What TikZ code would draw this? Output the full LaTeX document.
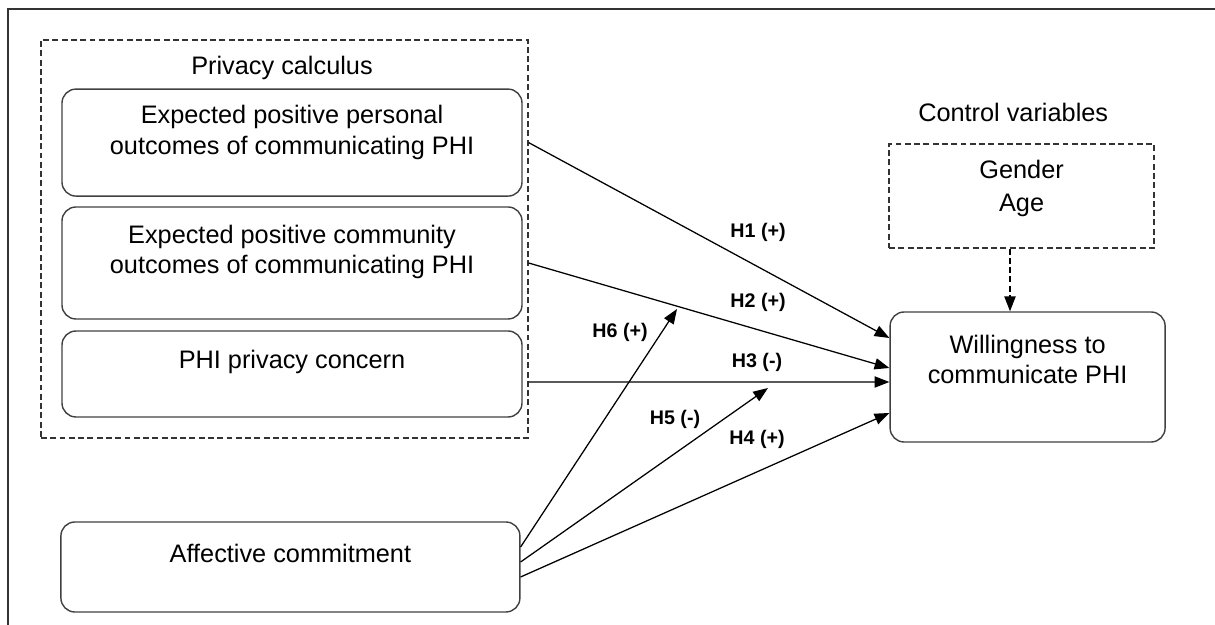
\documentclass[tikz,border=0pt]{standalone}
\usepackage{fontspec}
\setmainfont{Liberation Sans}
\usetikzlibrary{arrows.meta,positioning,calc}

\begin{document}
\begin{tikzpicture}[font=\fontsize{18}{21.5}\selectfont,
  box/.style={draw=black!75,line width=1pt,rounded corners=0.35cm},
  grpbox/.style={draw=black!80,line width=0.9pt,dash pattern=on 4.2pt off 2.4pt},
  txt/.style={align=center,inner sep=0pt},
  link/.style={line width=0.9pt,-{Triangle[length=0.37cm,width=0.28cm]}},
  hyp/.style={font=\fontsize{14}{16}\selectfont\bfseries,inner sep=0pt}]
  \useasboundingbox (0,0) rectangle (30.375,15.625);
  \draw[line width=1.3pt,black!80] (0.19,0) -- (0.19,15.39) -- (30.375,15.39);

  % privacy calculus group
  \node[grpbox,minimum width=12.175cm,minimum height=9.95cm] (grp) at (7.1125,9.65) {};
  \node[txt] (grptitle) at (7.05,13.925) {Privacy calculus};
  \node[box,minimum width=11.5cm,minimum height=2.675cm] (pers) at (7.3,12.06) {};
  \node[txt] (perstxt) at ([yshift=-1.1cm]pers.north) {Expected positive personal\\outcomes of communicating PHI};
  \node[box,minimum width=11.5cm,minimum height=2.8cm] (comm) at (7.3,9.05) {};
  \node[txt] (commtxt) at ([yshift=-1.14cm]comm.north) {Expected positive community\\outcomes of communicating PHI};
  \node[box,minimum width=11.5cm,minimum height=2.15cm] (conc) at (7.3,6.275) {};
  \node[txt] (conctxt) at ([yshift=-0.8cm]conc.north) {PHI privacy concern};

  \node[box,minimum width=11.475cm,minimum height=2.25cm] (aff) at (7.26,1.45) {};
  \node[txt] (afftxt) at ([yshift=-0.8cm]aff.north) {Affective commitment};

  % outcome and controls
  \node[box,minimum width=6.875cm,minimum height=3.25cm] (will) at (25.69,6.2) {};
  \node[txt] (willtxt) at ([yshift=-1.2cm]will.north) {Willingness to\\communicate PHI};
  \node[txt] (ctrltitle) at (25.33,12.825) {Control variables};
  \node[grpbox,minimum width=6.625cm,minimum height=2.6cm] (ctrl) at (25.54,10.725) {};
  \node[txt,font=\fontsize{18}{23.5}\selectfont] (ctrltxt) at ([yshift=-1.12cm]ctrl.north) {Gender\\Age};

  \coordinate (h6end) at (16.925,7.9);
  \coordinate (h5end) at (19.2,5.925);

  \draw[link] (pers.east -| grp.east) -- ([yshift=0.975cm]will.west);
  \draw[link] (comm.east -| grp.east) -- ([yshift=0.225cm]will.west);
  \draw[link] ([yshift=-0.2cm]conc.east -| grp.east) -- ([yshift=-0.125cm]will.west);
  \draw[link] ([yshift=-0.25cm]aff.east) -- ([yshift=-0.9cm]will.west);
  \draw[link] ([yshift=0.125cm]aff.east) -- (h5end);
  \draw[link] ([yshift=0.5cm]aff.east) -- (h6end);
  \draw[link,dash pattern=on 4.2pt off 2.4pt] ([xshift=-0.29cm]ctrl.south) -- ([xshift=-0.29cm]ctrl.south |- will.north);

  \node[hyp] (h1) at (18.95,9.825) {H1 (+)};
  \node[hyp] (h2) at (18.95,8.075) {H2 (+)};
  \node[hyp] (h6) at (15.5,7.325) {H6 (+)};
  \node[hyp] (h3) at (18.925,6.575) {H3 (-)};
  \node[hyp] (h5) at (16.875,5.15) {H5 (-)};
  \node[hyp] (h4) at (18.925,4.65) {H4 (+)};
\end{tikzpicture}
\end{document}
